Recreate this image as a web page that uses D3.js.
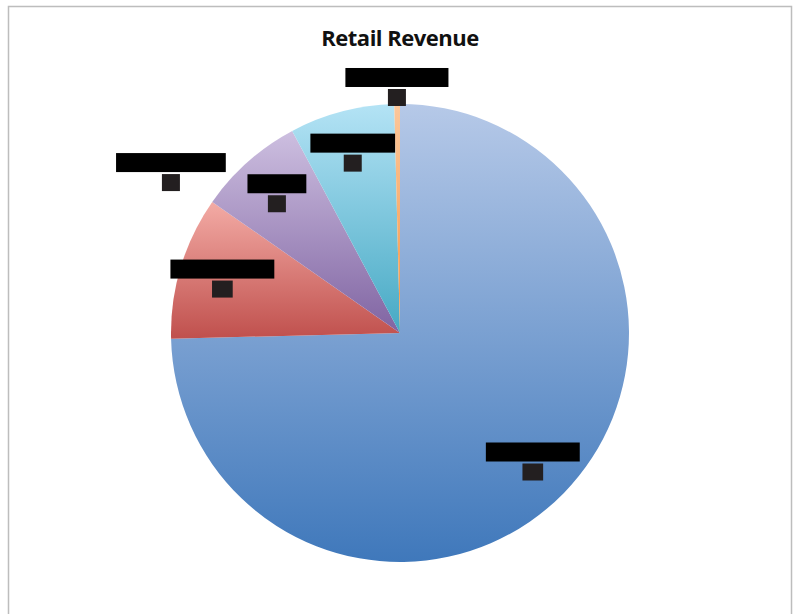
<!DOCTYPE html>
<html>
<head>
<meta charset="utf-8">
<script src="https://cdn.jsdelivr.net/npm/d3@7"></script>
<style>
  body { margin: 0; background: #fff; }
  #chart_div { width: 797px; height: 614px; }
</style>
</head>
<body>
<div id="chart_div"></div>
<script>

// slice data, clockwise from 12 o'clock (names are redacted in the source)
let categories = ["Merchandise", "Food Services", "Other Revenue", "Rentals", "Admissions", "Miscellaneous"]
let values = [74.6, 10.1, 0, 7.5, 7.4, 0.4]
let valueLabels = ["75", "10", "0", "8", "7", "0"]

// top / bottom gradient colours, same order as categories
let topColors = ["#b6c9e8", "#f3aba5", "#c9dca0", "#cdbfe0", "#b4e3f5", "#fbc79b"]
let bottomColors = ["#3f78bb", "#c0504d", "#9bbb59", "#8064a2", "#46a9c4", "#f79646"]

let width = 797;
let height = 614;
let radius = 229;
let cx = 400;
let cy = 333;

window.onload = function(){
  draw();
};

function draw(){

  let svg = d3.select("#chart_div")
    .append("svg")
    .attr("width", width)
    .attr("height", height)

  // chart frame
  svg.append("rect")
    .attr("x", 8.5)
    .attr("y", 6.5)
    .attr("width", 783)
    .attr("height", 620)
    .attr("fill", "white")
    .attr("stroke", "#bdbdbd")
    .attr("stroke-width", 1.5)

  svg.append("text")
    .attr("x", cx)
    .attr("y", 46)
    .attr("text-anchor", "middle")
    .style("font-family", "'Open Sans', sans-serif")
    .style("font-weight", "700")
    .style("font-size", "22px")
    .style("letter-spacing", "-0.5px")
    .attr("fill", "#111")
    .text("Retail Revenue")

  let data = categories.map((c, i) => ({name: c, value: values[i], label: valueLabels[i], idx: i}))

  let pie = d3.pie()
    .sort(null)
    .value(d => d.value)

  let arcs = pie(data)

  let defs = svg.append("defs")
  arcs.forEach((a, i) => {
    let g = defs.append("linearGradient")
      .attr("id", "grad" + i)
      .attr("x1", 0).attr("y1", 0)
      .attr("x2", 0).attr("y2", 1)
    g.append("stop").attr("offset", "0%").attr("stop-color", topColors[i])
    g.append("stop").attr("offset", "100%").attr("stop-color", bottomColors[i])
  })

  let arc = d3.arc()
    .innerRadius(0)
    .outerRadius(radius)

  let g = svg.append("g")
    .attr("transform", "translate(" + cx + "," + cy + ")")

  g.selectAll("path.slice")
    .data(arcs.filter(d => d.data.value > 0))
    .join("path")
    .attr("class", "slice")
    .attr("d", arc)
    .attr("fill", d => "url(#grad" + d.data.idx + ")")
    .attr("stroke", "none")

  // labels: small slices go outside the pie (excel best fit)
  const labelRadius = d => {
    if (d.data.value < 0.3) return radius * 1.22
    if (d.data.value < 1) return radius * 1.07
    return radius * 0.81
  }

  let labels = g.selectAll("g.lab")
    .data(arcs)
    .join("g")
    .attr("class", "lab")
    .attr("transform", d => {
      let r = labelRadius(d)
      let c = d3.arc().innerRadius(r).outerRadius(r).centroid(d)
      return "translate(" + c[0] + "," + c[1] + ")"
    })

  labels.each(function(d){
    let lg = d3.select(this)

    // name (redacted: text drawn on a black box)
    let nameBox = lg.append("rect").attr("fill", "#000")
    let nameText = lg.append("text")
      .attr("text-anchor", "middle")
      .attr("y", -5)
      .style("font-family", "'Liberation Sans', sans-serif")
      .style("font-size", "15px")
      .attr("fill", "#000")
      .text(d.data.name)
    let b = nameText.node().getBBox()
    nameBox
      .attr("x", b.x - 4)
      .attr("y", b.y - 1)
      .attr("width", b.width + 8)
      .attr("height", b.height + 2)

    // value (redacted as well)
    let valBox = lg.append("rect").attr("fill", "#231f20")
    let valText = lg.append("text")
      .attr("text-anchor", "middle")
      .attr("y", 15)
      .style("font-family", "'Liberation Sans', sans-serif")
      .style("font-size", "15px")
      .attr("fill", "#231f20")
      .text(d.data.label)
    let vb = valText.node().getBBox()
    let vw = Math.max(vb.width + 4, 18)
    valBox
      .attr("x", -vw / 2)
      .attr("y", vb.y)
      .attr("width", vw)
      .attr("height", vb.height)
  })
}

</script>
</body>
</html>
